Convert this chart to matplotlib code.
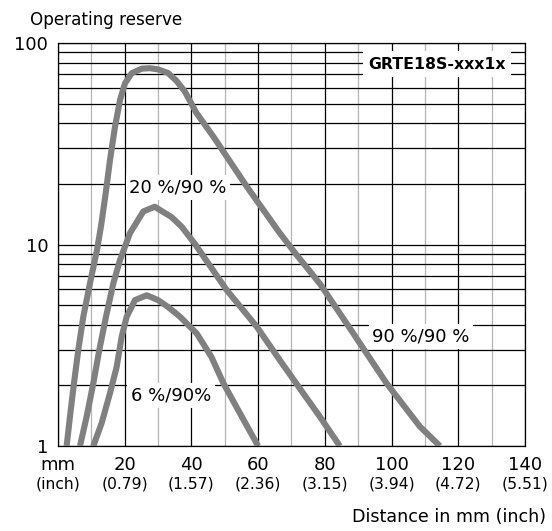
import matplotlib.pyplot as plt
import numpy as np

plt.rcParams['font.family'] = ['DejaVu Sans']

# distance in mm / operating reserve
x_90 = [2.6, 3.6, 4.8, 6.1, 7.6, 9.6, 11.7, 12.9, 14.3, 15.6, 17.1, 18.6, 20.1,
        22.1, 25.1, 27.5, 30.0, 33.0, 35.5, 38.0, 41.5, 46.6, 56.6, 66.5, 71.5,
        78.5, 88.5, 98.5, 108.5, 114.5]
y_90 = [1.0, 1.4, 2.05, 3.0, 4.38, 6.42, 9.4, 12.3, 17.9, 26.3, 38.4, 52.1, 63.1,
        70.8, 74.6, 75.0, 74.0, 71.0, 65.0, 57.6, 45.0, 34.3, 19.4, 11.4, 8.9,
        6.4, 3.63, 2.05, 1.25, 1.0]

x_20 = [6.6, 8.6, 10.6, 12.4, 14.4, 16.6, 18.6, 21.6, 25.6, 29.0, 34.0, 37.0, 41.0,
        50.6, 59.6, 66.5, 73.5, 78.5, 84.5]
y_20 = [1.0, 1.4, 2.05, 3.0, 4.38, 6.42, 8.38, 11.4, 14.6, 15.4, 13.7, 12.3, 10.1,
        5.94, 3.91, 2.67, 1.83, 1.4, 1.0]

x_6 = [10.6, 13.1, 15.6, 17.6, 19.1, 20.6, 23.1, 26.6, 30.0, 33.0, 36.6, 41.6,
       46.0, 49.6, 54.6, 60.0]
y_6 = [1.0, 1.3, 1.83, 2.47, 3.49, 4.38, 5.3, 5.6, 5.3, 4.9, 4.38, 3.62,
       2.77, 2.05, 1.45, 1.0]

mm_ticks = [0, 20, 40, 60, 80, 100, 120, 140]
mm_labels = ['mm', '20', '40', '60', '80', '100', '120', '140']
inch_labels = ['(inch)', '(0.79)', '(1.57)', '(2.36)', '(3.15)', '(3.94)', '(4.72)', '(5.51)']
y_ticks = [1, 10, 100]
y_labels = ['1', '10', '100']

fig = plt.figure(figsize=(5.52, 5.31), dpi=100)
ax = fig.add_axes([0.105, 0.160, 0.846, 0.759])

ax.set_yscale('log')
ax.set_xlim(0, 140)
ax.set_ylim(1, 100)

# grid
ax.set_xticks(mm_ticks)
ax.set_xticks(np.arange(10, 140, 20), minor=True)
ax.set_yticks(y_ticks)
ax.set_yticks([v * d for d in (1, 10) for v in range(2, 10)], minor=True)
ax.yaxis.set_minor_formatter(plt.NullFormatter())
ax.grid(True, axis='y', which='both', color='black', lw=0.9)
ax.grid(True, axis='x', which='major', color='black', lw=0.9)
ax.grid(True, axis='x', which='minor', color='#b5b5b5', lw=0.9)
ax.set_axisbelow(True)
ax.tick_params(which='both', length=0)
ax.set_xticklabels([])
ax.set_yticklabels(y_labels, fontsize=12.8)
ax.tick_params(axis='y', pad=7)
for s in ax.spines.values():
    s.set_color('black')
    s.set_linewidth(0.9)

for xs, ys in ((x_90, y_90), (x_20, y_20), (x_6, y_6)):
    ax.plot(xs, ys, color='#808080', lw=4.4, solid_joinstyle='round',
            solid_capstyle='butt', zorder=3)

# x labels, mm and inch in two lines
trans = ax.get_xaxis_transform()
for x, a, b in zip(mm_ticks, mm_labels, inch_labels):
    ax.text(x, -0.047, a, transform=trans, ha='center', va='center', fontsize=13)
    ax.text(x, -0.093, b, transform=trans, ha='center', va='center', fontsize=11.2)

box = dict(facecolor='white', edgecolor='none', pad=2.5)
ax.text(36, 19.1, '20 %/90 %', ha='center', va='center', fontsize=13, bbox=box, zorder=5)
ax.text(33.9, 1.79, '6 %/90%', ha='center', va='center', fontsize=13, bbox=box, zorder=5)
ax.text(108.8, 3.51, '90 %/90 %', ha='center', va='center', fontsize=13, bbox=box, zorder=5)
ax.text(113.6, 78.6, 'GRTE18S-xxx1x', ha='center', va='center', fontsize=11.3,
        fontweight='bold', bbox=dict(facecolor='white', edgecolor='none', pad=4), zorder=5)

fig.text(30 / 552, 1 - 20 / 531, 'Operating reserve', ha='left', va='center', fontsize=12.1)
fig.text(546 / 552, 1 - 517 / 531, 'Distance in mm (inch)', ha='right', va='center', fontsize=12.6)

fig.savefig('out.png', dpi=100)
